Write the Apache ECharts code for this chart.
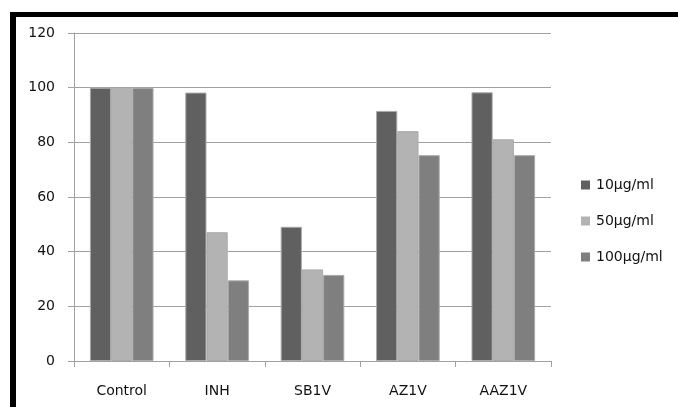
<!DOCTYPE html>
<html>
<head>
<meta charset="utf-8">
<script src="https://cdn.jsdelivr.net/npm/echarts@6/dist/echarts.min.js"></script>
<style>
  html, body { margin: 0; padding: 0; background: #fff; }
  #wrap { position: relative; width: 678px; height: 407px; overflow: hidden; }
  #chart { position: absolute; left: 0; top: 0; width: 678px; height: 407px; }
  #frame {
    position: absolute; left: 10px; top: 12px; right: -10px; bottom: -10px;
    border-top: 5px solid #000; border-left: 6px solid #000;
    pointer-events: none;
  }
</style>
</head>
<body>
<div id="wrap">
  <div id="chart"></div>
  <div id="frame"></div>
</div>
<script>
  var categories = ["Control", "INH", "SB1V", "AZ1V", "AAZ1V"];
  var seriesNames = ["10µg/ml", "50µg/ml", "100µg/ml"];
  var dose10 = [100, 98.2, 49.1, 91.5, 98.3];
  var dose50 = [100, 47.1, 33.5, 84.1, 81.1];
  var dose100 = [100, 29.5, 31.5, 75.3, 75.3];
  var colors = ["#606060", "#b3b3b3", "#7f7f7f"];

  var font = "DejaVu Sans";
  var axisGray = "#a0a0a0";

  function barSeries(name, data, color) {
    return {
      name: name,
      type: "bar",
      data: data,
      barGap: "0%",
      barCategoryGap: "33.3%",
      itemStyle: { color: color, borderColor: "#a9a9a9", borderWidth: 1 },
      emphasis: { disabled: true }
    };
  }

  var chart = echarts.init(document.getElementById("chart"), null, { renderer: "canvas" });
  chart.setOption({
    animation: false,
    backgroundColor: "#fff",
    textStyle: { fontFamily: font },
    grid: { left: 74, right: 127, top: 33, bottom: 46, containLabel: false },
    legend: {
      orient: "vertical",
      left: 581,
      top: 178,
      padding: 0,
      itemWidth: 9,
      itemHeight: 9,
      itemGap: 22,
      icon: "rect",
      data: seriesNames,
      itemStyle: { borderWidth: 0 },
      textStyle: { fontFamily: font, fontSize: 14, color: "#111", lineHeight: 14, padding: [0, 0, 0, 1] }
    },
    xAxis: {
      type: "category",
      data: categories,
      axisLine: { lineStyle: { color: axisGray, width: 1 } },
      axisTick: { show: true, length: 6, lineStyle: { color: axisGray } },
      axisLabel: { margin: 23, fontFamily: font, fontSize: 14, color: "#111" }
    },
    yAxis: {
      type: "value",
      min: 0,
      max: 120,
      interval: 20,
      axisLine: { show: true, lineStyle: { color: axisGray, width: 1 } },
      axisTick: { show: true, length: 6, lineStyle: { color: axisGray } },
      splitLine: { lineStyle: { color: axisGray, width: 1 } },
      axisLabel: { margin: 19, fontFamily: font, fontSize: 14, color: "#111" }
    },
    series: [
      barSeries(seriesNames[0], dose10, colors[0]),
      barSeries(seriesNames[1], dose50, colors[1]),
      barSeries(seriesNames[2], dose100, colors[2])
    ]
  });
</script>
</body>
</html>
